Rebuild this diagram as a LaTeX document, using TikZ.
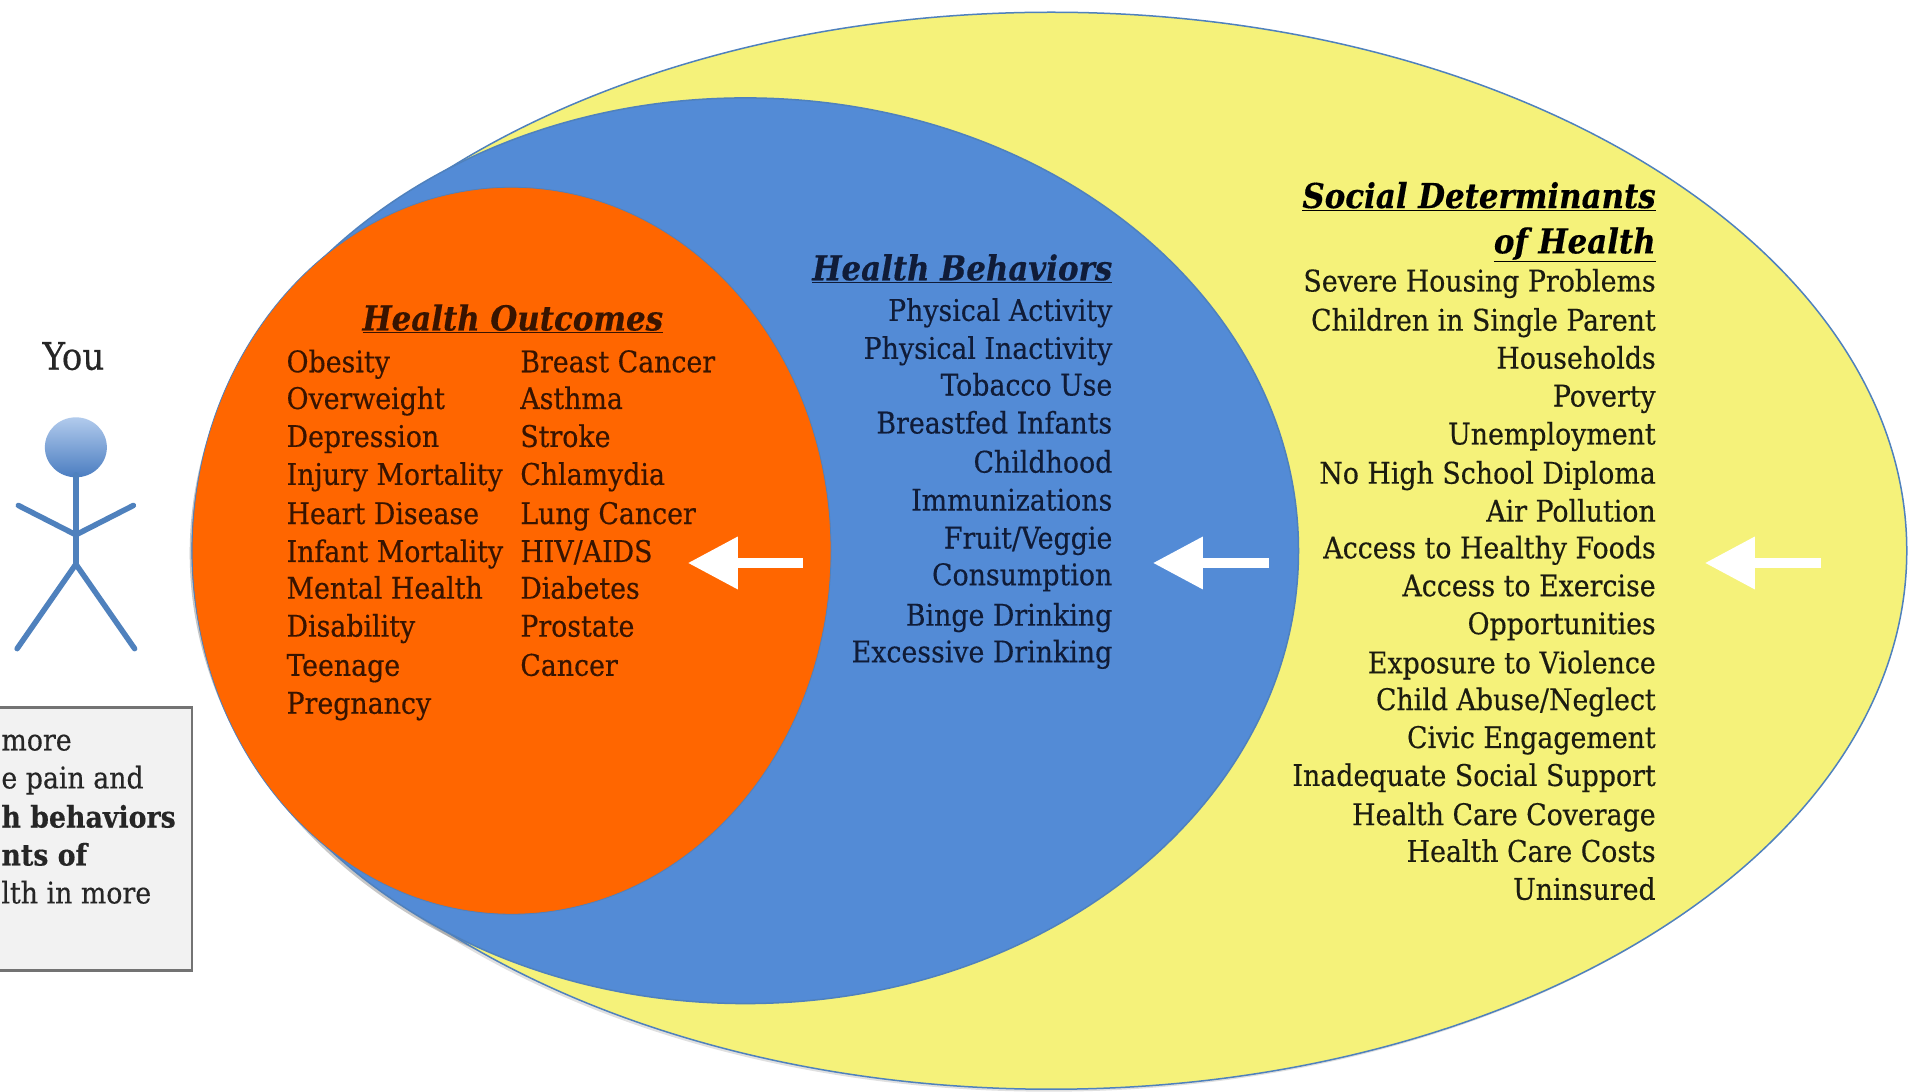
\documentclass[tikz,border=0pt]{standalone}
\usepackage{fontspec}
\setmainfont[RawFeature={embolden=0.4}]{DejaVu Serif Condensed}
\usetikzlibrary{arrows.meta}
\definecolor{yel}{HTML}{F5F27A}
\definecolor{blu}{HTML}{538BD6}
\definecolor{edgeblu}{HTML}{4F81BD}
\definecolor{ora}{HTML}{FF6600}
\definecolor{txtO}{HTML}{381400}
\definecolor{txtB}{HTML}{101C38}
\definecolor{txtY}{HTML}{1C1C10}
\tikzset{
  x=1.2239pt,y=-1.2239pt,
  rowtext/.style={inner sep=0pt,font=\fontsize{29.8}{32}\selectfont,yshift=-10pt},
  leftrow/.style={rowtext,anchor=base west},
  rightrow/.style={rowtext,anchor=base east},
  headtext/.style={inner sep=0pt,yshift=-11pt,font=\fontsize{34.3}{38}\selectfont\bfseries\itshape},
  whitearrow/.style={draw=white,line width=10pt,-{Triangle[length=50pt,width=50pt,fill=white]}},
  limb/.style={draw=edgeblu,line width=5.5pt,line cap=round},
}
\begin{document}
\begin{tikzpicture}
\useasboundingbox (0,0) rectangle (1568,892);
\fill[white] (0,0) rectangle (1568,892);
% soft shadow
\fill[black,opacity=.22] (607,452) ellipse [x radius=452pt*1.2239,y radius=370pt*1.2239];
\fill[black,opacity=.12] (857,452) ellipse [x radius=699pt*1.2239,y radius=440pt*1.2239];
% nested ellipses
\draw[fill=yel,draw=edgeblu,line width=1.5pt] (859,450) ellipse [x radius=699pt*1.2239,y radius=440pt*1.2239];
\draw[fill=blu,draw=edgeblu,line width=1.5pt] (609,450) ellipse [x radius=452pt*1.2239,y radius=370pt*1.2239];
\draw[fill=ora,draw=edgeblu,line width=.8pt] (418,450) ellipse [x radius=261pt*1.2239,y radius=297pt*1.2239];
% person
\node[inner sep=0pt,font=\fontsize{38}{40}\selectfont,text=black!85] (you) at (60,291) {You};
\shade[top color=blu!45!white,bottom color=blu!90!black] (62,365.5) ellipse [x radius=31pt,y radius=30pt];
\coordinate (neck) at (62,388);
\coordinate (hip) at (62,461);
\coordinate (chest) at (62,437);
\coordinate (handL) at (15,413);
\coordinate (handR) at (109,413);
\coordinate (footL) at (14,530);
\coordinate (footR) at (110,530);
\draw[limb] (neck) -- (hip);
\draw[limb] (handL) -- (chest) -- (handR);
\draw[limb] (footL) -- (hip) -- (footR);
% box
\draw[fill=black!5,draw=black!55,line width=2.5pt] (-5,578) rectangle (157,793);
\foreach \y/\t/\f [count=\i] in {605/more/\mdseries,636/e pain and/\mdseries,668/h behaviors/\bfseries,699/nts of/\bfseries,730/lth in more/\mdseries}
  \node[leftrow,name=box\i,text=black!85] at (1,\y) {\f\t};
% arrows
\coordinate (a1s) at (656,460); \coordinate (a1e) at (562,460);
\coordinate (a2s) at (1037,460); \coordinate (a2e) at (942,460);
\coordinate (a3s) at (1488,460); \coordinate (a3e) at (1393,460);
\draw[whitearrow] (a1s) -- (a1e);
\draw[whitearrow] (a2s) -- (a2e);
\draw[whitearrow] (a3s) -- (a3e);
% outcomes
\node[headtext,text=txtO] (hoTitle) at (419,261) [anchor=base] {\underline{Health Outcomes}};
\foreach \y/\t [count=\i] in {296/Obesity,326/Overweight,357/Depression,388/Injury Mortality,420/Heart Disease,451/Infant Mortality,481/Mental Health,512/Disability,544/Teenage,575/Pregnancy}
  \node[leftrow,name=hoL\i,text=txtO] at (234,\y) {\t};
\foreach \y/\t [count=\i] in {296/Breast Cancer,326/Asthma,357/Stroke,388/Chlamydia,420/Lung Cancer,451/{HIV/AIDS},481/Diabetes,512/Prostate,544/Cancer}
  \node[leftrow,name=hoR\i,text=txtO] at (425,\y) {\t};
% behaviors
\node[headtext,text=txtB,anchor=base east] (hbTitle) at (909,220) {\underline{Health Behaviors}};
\foreach \y/\t [count=\i] in {254/Physical Activity,285/Physical Inactivity,315/Tobacco Use,346/Breastfed Infants,378/Childhood,409/Immunizations,440/{Fruit/Veggie},470/Consumption,503/Binge Drinking,533/Excessive Drinking}
  \node[rightrow,name=hb\i,text=txtB] at (909,\y) {\t};
% social
\node[headtext,text=black,anchor=base east] (sdTitleA) at (1353,161) {\underline{Social Determinants}};
\node[headtext,text=black,anchor=base east] (sdTitleB) at (1353,198) {\underline{of Health}};
\foreach \y/\t [count=\i] in {230/Severe Housing Problems,262/Children in Single Parent,293/Households,324/Poverty,355/Unemployment,387/No High School Diploma,418/Air Pollution,448/Access to Healthy Foods,479/Access to Exercise,510/Opportunities,542/Exposure to Violence,572/{Child Abuse/Neglect},603/Civic Engagement,634/Inadequate Social Support,666/Health Care Coverage,696/Health Care Costs,727/Uninsured}
  \node[rightrow,name=sd\i,text=txtY] at (1353,\y) {\t};
\end{tikzpicture}
\end{document}
